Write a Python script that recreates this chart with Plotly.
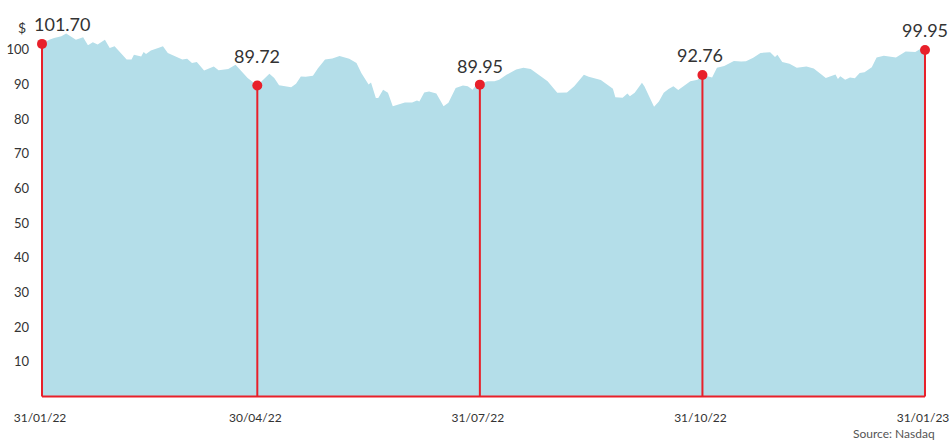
import plotly.graph_objects as go
import pandas as pd

# ---- data ----
dates = [
    "2022-01-31", "2022-02-03", "2022-02-05", "2022-02-08", "2022-02-10", "2022-02-12", "2022-02-14",
    "2022-02-17", "2022-02-19", "2022-02-21", "2022-02-23", "2022-02-26", "2022-02-28", "2022-03-02",
    "2022-03-04", "2022-03-07", "2022-03-09", "2022-03-10", "2022-03-13", "2022-03-14", "2022-03-15",
    "2022-03-17", "2022-03-20", "2022-03-22", "2022-03-24", "2022-03-27", "2022-03-30", "2022-04-01",
    "2022-04-03", "2022-04-05", "2022-04-08", "2022-04-10", "2022-04-12", "2022-04-14", "2022-04-16",
    "2022-04-18", "2022-04-21", "2022-04-23", "2022-04-26", "2022-04-30", "2022-05-03", "2022-05-05",
    "2022-05-07", "2022-05-09", "2022-05-14", "2022-05-16", "2022-05-18", "2022-05-20", "2022-05-23",
    "2022-05-25", "2022-05-28", "2022-05-31", "2022-06-03", "2022-06-07", "2022-06-10", "2022-06-12",
    "2022-06-15", "2022-06-16", "2022-06-18", "2022-06-19", "2022-06-21", "2022-06-23", "2022-06-25",
    "2022-06-27", "2022-06-30", "2022-07-03", "2022-07-05", "2022-07-06", "2022-07-08", "2022-07-10",
    "2022-07-13", "2022-07-16", "2022-07-18", "2022-07-21", "2022-07-24", "2022-07-26", "2022-07-28",
    "2022-07-30", "2022-07-31", "2022-08-03", "2022-08-06", "2022-08-08", "2022-08-11", "2022-08-15",
    "2022-08-18", "2022-08-21", "2022-08-25", "2022-08-28", "2022-09-01", "2022-09-05", "2022-09-08",
    "2022-09-12", "2022-09-14", "2022-09-19", "2022-09-21", "2022-09-24", "2022-09-25", "2022-09-28",
    "2022-09-30", "2022-10-01", "2022-10-03", "2022-10-06", "2022-10-07", "2022-10-09", "2022-10-11",
    "2022-10-13", "2022-10-15", "2022-10-17", "2022-10-19", "2022-10-21", "2022-10-24", "2022-10-26",
    "2022-10-29", "2022-10-31", "2022-11-04", "2022-11-06", "2022-11-09", "2022-11-13", "2022-11-16",
    "2022-11-18", "2022-11-21", "2022-11-24", "2022-11-28", "2022-11-30", "2022-12-01", "2022-12-03",
    "2022-12-06", "2022-12-09", "2022-12-13", "2022-12-16", "2022-12-18", "2022-12-21", "2022-12-25",
    "2022-12-26", "2022-12-27", "2022-12-29", "2022-12-31", "2023-01-02", "2023-01-04", "2023-01-06",
    "2023-01-09", "2023-01-11", "2023-01-14", "2023-01-19", "2023-01-23", "2023-01-27", "2023-01-29",
    "2023-01-31",
]
prices = [
    101.70, 102.9, 103.4, 103.9, 104.7, 103.9, 102.9,
    103.6, 101.3, 102.2, 101.5, 102.9, 100.5, 101.0,
    99.6, 97.2, 97.2, 98.6, 98.1, 99.4, 98.8,
    99.8, 100.5, 101.0, 99.1, 98.1, 97.2, 97.4,
    96.2, 96.5, 94.0, 94.6, 95.2, 94.1, 94.3,
    94.5, 95.7, 94.3, 91.9, 89.72, 91.9, 93.1,
    91.9, 89.8, 89.2, 90.2, 92.3, 92.2, 92.5,
    94.6, 97.2, 97.5, 98.2, 97.4, 96.2, 93.3,
    90.0, 90.6, 86.1, 86.1, 88.5, 87.6, 83.7,
    84.2, 84.8, 84.8, 85.4, 85.1, 87.7, 88.0,
    87.4, 83.7, 84.7, 89.0, 89.7, 89.5, 88.5,
    90.4, 89.95, 90.9, 90.9, 91.4, 92.8, 94.3,
    94.8, 94.5, 92.5, 90.9, 87.6, 87.7, 89.5,
    92.8, 92.2, 91.3, 90.3, 88.8, 86.3, 86.2,
    87.4, 86.6, 87.6, 90.5, 89.5, 86.5, 83.6,
    85.1, 87.6, 88.7, 89.5, 88.4, 90.0, 90.9,
    91.4, 92.76, 92.0, 94.8, 95.3, 96.8, 96.6,
    96.7, 97.7, 99.1, 99.3, 97.9, 98.6, 96.5,
    96.0, 94.8, 95.2, 94.6, 93.5, 91.9, 92.9,
    91.6, 92.4, 91.4, 92.0, 91.8, 93.3, 93.5,
    95.0, 97.8, 98.3, 97.8, 99.5, 99.4, 100.2,
    99.95,
]

highlight_dates = ["2022-01-31", "2022-04-30", "2022-07-31", "2022-10-31", "2023-01-31"]
highlight_values = [101.70, 89.72, 89.95, 92.76, 99.95]
highlight_labels = ["101.70", "89.72", "89.95", "92.76", "99.95"]

x_tick_dates = ["2022-01-31", "2022-04-30", "2022-07-31", "2022-10-31", "2023-01-31"]
x_tick_labels = ["31/01/22", "30/04/22", "31/07/22", "31/10/22", "31/01/23"]
y_tick_values = [10, 20, 30, 40, 50, 60, 70, 80, 90, 100]

# ---- styling ----
FONT = "Lato"
RED = "#e8202a"
FILL = "#b4dee9"
TEXT = "#333333"
label_offsets = [(20, 20), (0, 29), (0, 19), (-2, 20), (0, 20)]

start = pd.Timestamp(highlight_dates[0])
end = pd.Timestamp(highlight_dates[-1])
pad = pd.Timedelta(hours=10)

fig = go.Figure()

fig.add_trace(go.Scatter(
    x=dates, y=prices, mode="lines", fill="tozeroy",
    fillcolor=FILL, line=dict(width=0, color=FILL),
    hoverinfo="skip", showlegend=False,
))

# red vertical lines + baseline
vx, vy = [], []
for d, v in zip(highlight_dates, highlight_values):
    vx += [d, d, None]
    vy += [0, v, None]
vx += [highlight_dates[0], highlight_dates[-1]]
vy += [0, 0]
fig.add_trace(go.Scatter(
    x=vx, y=vy, mode="lines", line=dict(color=RED, width=2),
    hoverinfo="skip", showlegend=False,
))

fig.add_trace(go.Scatter(
    x=highlight_dates, y=highlight_values, mode="markers",
    marker=dict(color=RED, size=10), cliponaxis=False,
    hoverinfo="skip", showlegend=False,
))

for d, v, t, (dx, dy) in zip(highlight_dates, highlight_values, highlight_labels, label_offsets):
    fig.add_annotation(
        x=d, y=v, text=t, showarrow=False, xref="x", yref="y",
        xanchor="center", yanchor="middle", xshift=dx, yshift=dy,
        font=dict(family=FONT, size=18, color=TEXT),
    )

fig.add_annotation(
    x=-0.021, y=1.005, xref="paper", yref="paper", text="$", showarrow=False,
    xanchor="center", yanchor="middle", font=dict(family=FONT, size=14, color=TEXT),
)
fig.add_annotation(
    x=1.0125, y=-0.097, xref="paper", yref="paper", text="Source: Nasdaq", showarrow=False,
    xanchor="right", yanchor="middle", font=dict(family=FONT, size=12, color="#555555"),
)

fig.update_layout(
    width=950, height=441,
    margin=dict(l=41, r=24, t=29, b=43, autoexpand=False),
    paper_bgcolor="white", plot_bgcolor="white",
    font=dict(family=FONT, color=TEXT),
    showlegend=False,
)
fig.update_xaxes(
    type="date", range=[start - pad, end + pad], automargin=False,
    tickmode="array", tickvals=x_tick_dates, ticktext=x_tick_labels,
    showgrid=False, zeroline=False, showline=False, ticks="",
    ticklabeloverflow="allow", ticklabelshift=-2,
    tickfont=dict(family=FONT, size=12, color=TEXT), ticklabelstandoff=11,
)
fig.update_yaxes(
    range=[-0.4, 106], tickmode="array", tickvals=y_tick_values, automargin=False,
    showgrid=False, zeroline=False, showline=False, ticks="",
    tickfont=dict(family=FONT, size=13, color=TEXT), ticklabelstandoff=11,
)

fig.write_html(
    "out.html",
    config={"displayModeBar": False},
    post_script="document.body.style.margin='0';document.body.style.overflow='hidden';",
)
